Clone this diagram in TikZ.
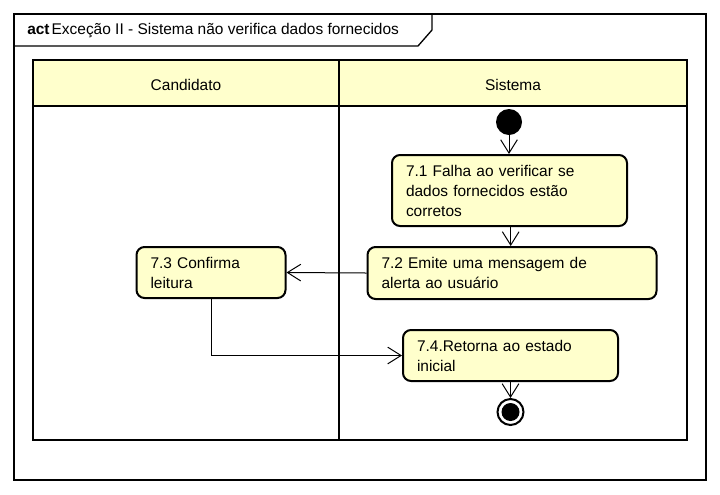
\documentclass[tikz,border=0pt]{standalone}
\usepackage{fontspec}
\setmainfont{Liberation Sans}
\usetikzlibrary{arrows.meta}
\definecolor{laneyellow}{RGB}{255,255,204}
\tikzset{
  frame line/.style={line width=1pt,draw=black},
  lane line/.style={line width=2pt,draw=black},
  diagram font/.style={font=\fontsize{11.6}{15}\selectfont},
  act box/.style={
    rectangle,
    rounded corners=6pt,
    draw=black,
    fill=laneyellow,
    line width=1.5pt,
    align=left,
    inner xsep=10.5pt,
    inner ysep=0pt,
    diagram font
  },
  start node/.style={circle,fill=black,minimum size=19.5pt,inner sep=0pt},
  final node/.style={circle,draw=black,fill=white,line width=1.5pt,minimum size=19.5pt,inner sep=0pt},
  flow/.style={-{Straight Barb[length=10pt,width=12.5pt]},line width=0.75pt}
}

\begin{document}
\begin{tikzpicture}[x=0.75pt,y=-0.75pt]
  \useasboundingbox (0,0) rectangle (720,494);

  \draw[frame line] (14,14) rectangle (706,480);
  \draw[frame line] (14,46) -- (418,46) -- (432,30) -- (432,14);
  \node[diagram font,anchor=west,inner sep=0pt] (title) at (27,31)
    {\textbf{act}\hspace{1.5pt}Exceção II - Sistema não verifica dados fornecidos};

  \fill[laneyellow] (33,60) rectangle (687,106);
  \draw[lane line] (33,60) rectangle (687,440);
  \draw[lane line] (33,106) -- (687,106);
  \draw[lane line] (339,60) -- (339,440);
  \node[diagram font] (candidato) at (186,85) {Candidato};
  \node[diagram font] (sistema) at (513,85) {Sistema};

  \node[start node] (start) at (509,122) {};
  \node[act box,text width=155.25pt,minimum height=53.25pt] (n71) at (509.5,190.5)
    {7.1 Falha ao verificar se\\dados fornecidos estão\\corretos};
  \node[act box,text width=195.75pt,minimum height=39pt] (n72) at (512,273)
    {7.2 Emite uma mensagem de\\alerta ao usuário};
  \node[act box,text width=90.75pt,minimum height=38.25pt] (n73) at (211,272.5)
    {7.3 Confirma\\leitura};
  \node[act box,text width=140.25pt,minimum height=38.25pt] (n74) at (510.5,355.5)
    {7.4.Retorna ao estado\\inicial};
  \node[final node] (fin) at (510.5,412) {};
  \fill[black] (fin.center) circle (6.75pt);

  \draw[flow] (start) -- (start |- n71.north);
  \draw[flow] (n71.south -| 510.7,0) -- (n72.north -| 510.7,0);
  \draw[flow] (n72.west) -- (n73.east);
  \draw[flow] (n73.south) |- (n74.west);
  \draw[flow] (n74.south) -- (fin.north);
\end{tikzpicture}
\end{document}
